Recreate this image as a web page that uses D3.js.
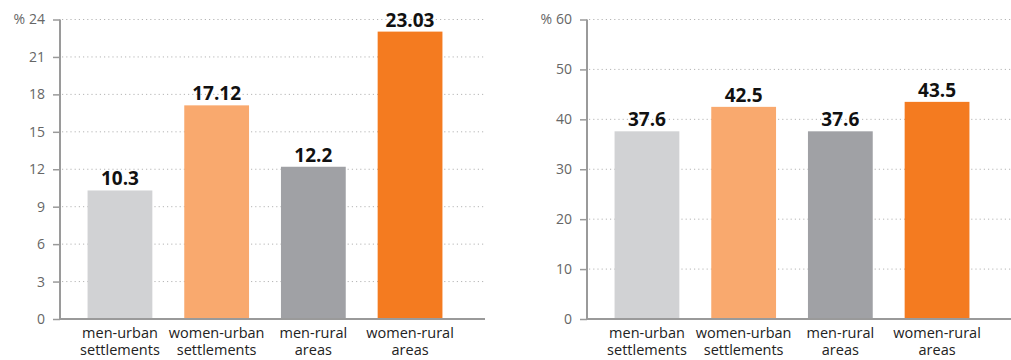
<!DOCTYPE html>
<html>
<head>
<meta charset="utf-8">
<script src="https://cdn.jsdelivr.net/npm/d3@7.9.0/dist/d3.min.js"></script>
<style>
  body { margin: 0; background: #fff; }
  text { font-family: "Open Sans", "DejaVu Sans", sans-serif; }
</style>
</head>
<body>
<svg id="chart" width="1011" height="360"></svg>
<script>
const categories = ['men-urban settlements', 'women-urban settlements', 'men-rural areas', 'women-rural areas'];
const catLines = [['men-urban', 'settlements'], ['women-urban', 'settlements'], ['men-rural', 'areas'], ['women-rural', 'areas']];
const leftValues = [10.3, 17.12, 12.2, 23.03];
const leftLabels = ['10.3', '17.12', '12.2', '23.03'];
const leftTicks = [0, 3, 6, 9, 12, 15, 18, 21, 24];
const rightValues = [37.6, 42.5, 37.6, 43.5];
const rightLabels = ['37.6', '42.5', '37.6', '43.5'];
const rightTicks = [0, 10, 20, 30, 40, 50, 60];
const colors = ['#d1d2d4', '#f9a96e', '#a0a1a5', '#f47b20'];

const svg = d3.select('#chart');

function drawPanel(x0, xEnd, values, labels, ticks) {
    const g = svg.append('g');
    const yTop = 19.5, yBottom = 319;

    let y = d3.scaleLinear()
        .domain([0, d3.max(ticks)])
        .range([yBottom, yTop]);

    let x = d3.scaleBand()
        .domain(categories)
        .range([x0, x0 + 410])
        .paddingInner(0.33)
        .paddingOuter(0.285);

    // dotted grid lines
    g.selectAll('.grid')
        .data(ticks.filter(t => t > 0))
        .join('line')
        .attr('x1', x0 + 2).attr('x2', xEnd)
        .attr('y1', d => y(d)).attr('y2', d => y(d))
        .attr('stroke', '#b5b5b5')
        .attr('stroke-width', 1)
        .attr('stroke-dasharray', '1.2,3');

    // bars
    g.selectAll('.bar')
        .data(values)
        .join('rect')
        .attr('x', (d, i) => x(categories[i]))
        .attr('y', d => y(d))
        .attr('width', x.bandwidth())
        .attr('height', d => yBottom - y(d))
        .attr('fill', (d, i) => colors[i]);

    // value labels
    g.selectAll('.val')
        .data(values)
        .join('text')
        .attr('x', (d, i) => x(categories[i]) + x.bandwidth() / 2)
        .attr('y', d => y(d) - 5)
        .attr('text-anchor', 'middle')
        .attr('font-size', 19)
        .attr('font-weight', 'bold')
        .attr('fill', '#111')
        .text((d, i) => labels[i]);

    // y axis
    let yAxis = d3.axisLeft(y).tickValues(ticks).tickSize(7).tickPadding(8);
    let ya = g.append('g').attr('transform', `translate(${x0},0)`).call(yAxis);
    ya.select('.domain').attr('stroke', '#9a9a9a').attr('stroke-width', 2)
        .attr('d', `M0,${yTop}V${yBottom}`);
    ya.selectAll('.tick line').attr('stroke', '#9a9a9a').attr('stroke-width', 1.5);
    ya.selectAll('.tick text').attr('fill', '#666').attr('font-size', 14)
        .attr('font-family', '"Open Sans", "DejaVu Sans", sans-serif');

    g.append('text')
        .attr('x', x0 - 35)
        .attr('y', y(d3.max(ticks)))
        .attr('dy', '0.32em')
        .attr('text-anchor', 'end')
        .attr('font-size', 14)
        .attr('fill', '#666')
        .text('%');

    // x axis line
    g.append('line')
        .attr('x1', x0 - 1).attr('x2', xEnd)
        .attr('y1', yBottom).attr('y2', yBottom)
        .attr('stroke', '#9a9a9a')
        .attr('stroke-width', 2);

    // category labels
    g.selectAll('.cat')
        .data(catLines)
        .join('text')
        .attr('x', (d, i) => x(categories[i]) + x.bandwidth() / 2)
        .attr('y', 338)
        .attr('text-anchor', 'middle')
        .attr('font-size', 14.5)
        .attr('fill', '#222')
        .selectAll('tspan')
        .data(d => d)
        .join('tspan')
        .attr('x', function () { return d3.select(this.parentNode).attr('x'); })
        .attr('dy', (d, i) => i === 0 ? 0 : 17)
        .text(d => d);
}

drawPanel(60, 485, leftValues, leftLabels, leftTicks);
drawPanel(587, 1011, rightValues, rightLabels, rightTicks);
</script>
</body>
</html>
